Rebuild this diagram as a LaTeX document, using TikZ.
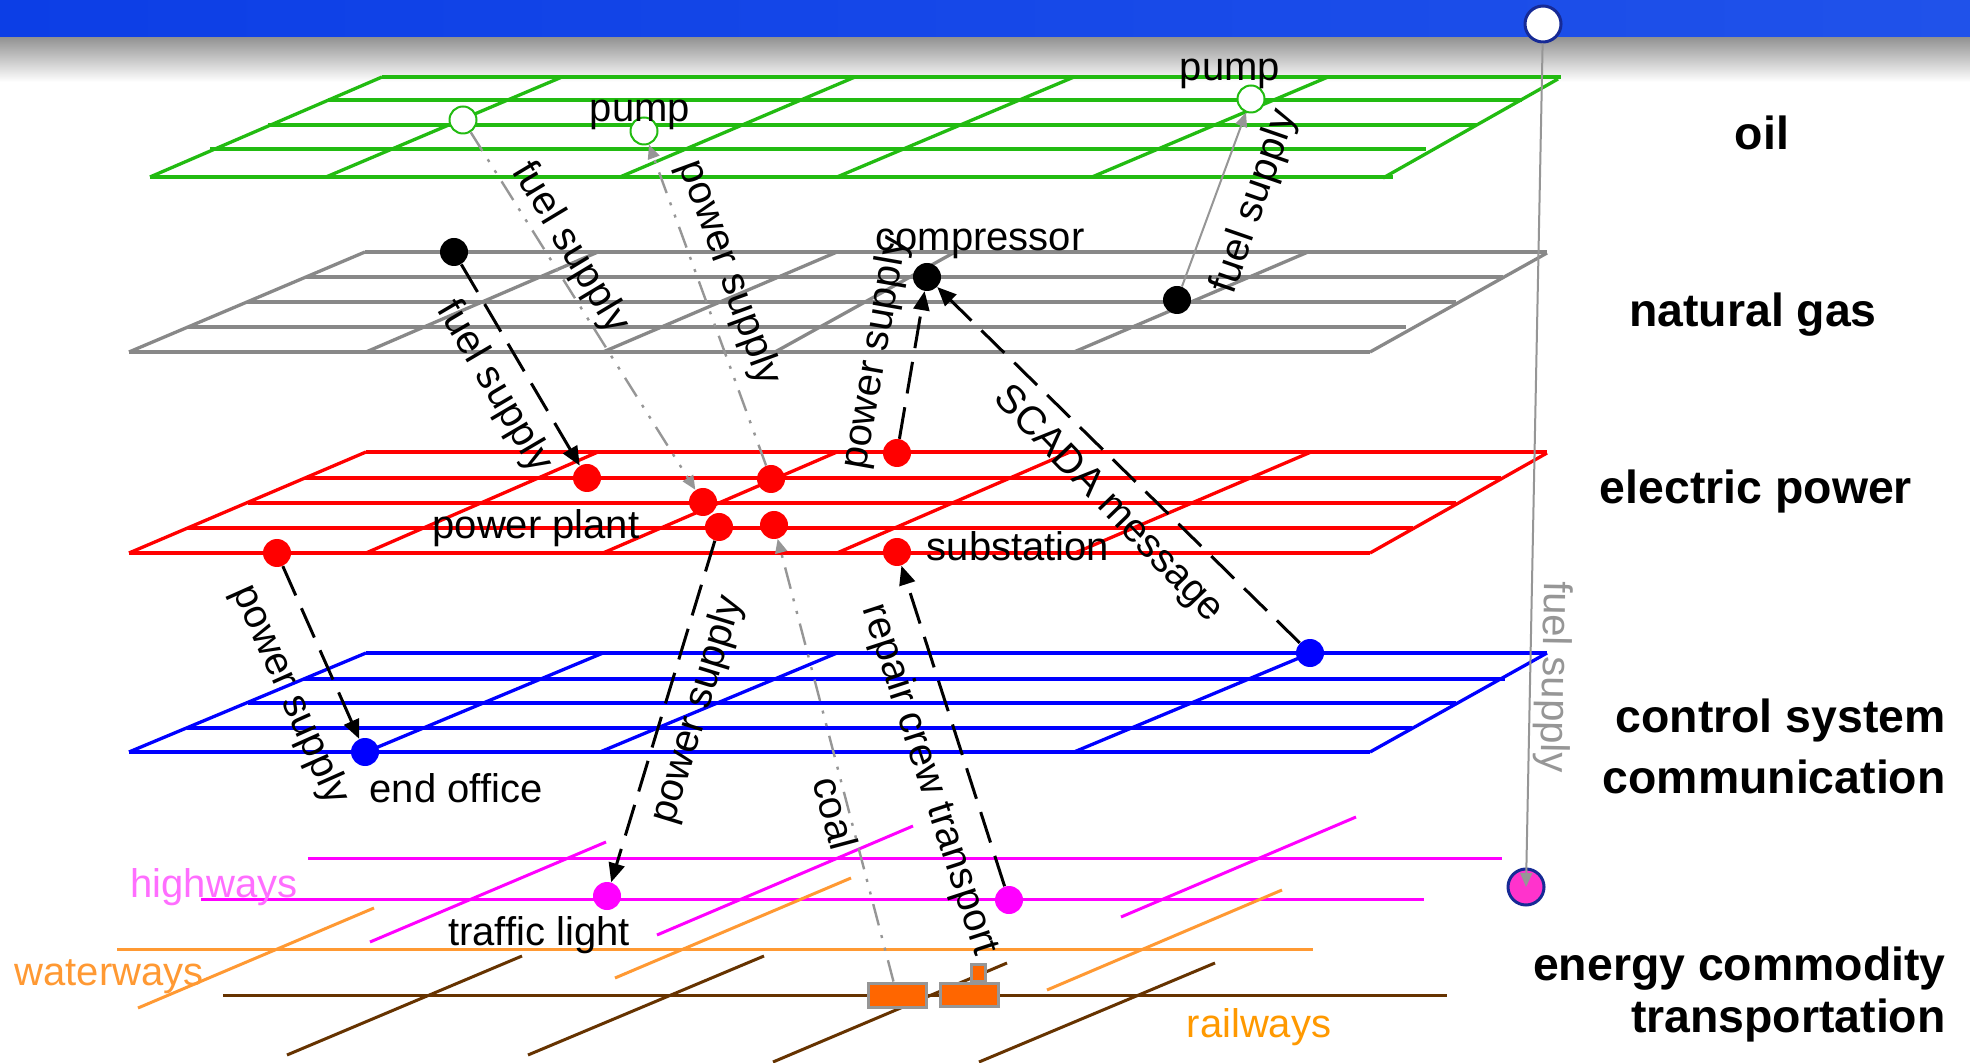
\documentclass[tikz,border=0pt]{standalone}
\usepackage{fontspec}
\setmainfont{Liberation Sans}
\usetikzlibrary{arrows.meta}
\definecolor{oilg}{RGB}{34,187,17}
\definecolor{gasg}{RGB}{136,136,136}
\definecolor{elr}{RGB}{255,0,0}
\definecolor{ctb}{RGB}{0,0,255}
\definecolor{hwy}{RGB}{255,0,255}
\definecolor{wtr}{RGB}{255,153,51}
\definecolor{rail}{RGB}{102,51,0}
\definecolor{carfill}{RGB}{255,102,0}
\definecolor{lnkgray}{RGB}{150,150,150}
\definecolor{ringblue}{RGB}{22,42,150}
\definecolor{hwylbl}{RGB}{255,110,255}
\definecolor{raillbl}{RGB}{255,153,0}
\definecolor{topL}{RGB}{12,62,230}
\definecolor{topR}{RGB}{32,82,234}
\definecolor{pinkfill}{RGB}{255,51,204}
\begin{document}
\begin{tikzpicture}[x=0.5pt,y=-0.5pt,
  gridline/.style={line width=1.65pt},
  lbl/.style={font=\fontsize{20pt}{24pt}\selectfont, inner sep=0pt},
  layerlbl/.style={font=\fontsize{23.2pt}{28pt}\selectfont\bfseries, inner sep=0pt},
  netnode/.style={circle, inner sep=0pt, minimum size=14pt},
  pumpnode/.style={circle, inner sep=0pt, minimum size=13.5pt, fill=white, draw=oilg, line width=1pt},
  ringnode/.style={circle, inner sep=0pt, minimum size=18pt, draw=ringblue, line width=1.5pt},
  carbox/.style={rectangle, inner sep=0pt, fill=carfill, draw=lnkgray, line width=1.5pt},
  blackflow/.style={black, line width=1.5pt, dash pattern=on 16pt off 7pt, -{Triangle[length=9.5pt,width=8pt]}},
  grayflow/.style={lnkgray, line width=1.2pt, dash pattern=on 11pt off 5pt on 1.5pt off 5pt on 1.5pt off 5pt, -{Triangle[length=7pt,width=6pt]}},
  graysolid/.style={lnkgray, line width=1pt, -{Triangle[length=7pt,width=6pt]}}
]
\useasboundingbox (0,0) rectangle (1970,1063);
\fill[white] (0,0) rectangle (1970,1063);
% title bar
\shade[left color=topL, right color=topR] (0,0) rectangle (1970,38);
\shade[top color=black!42, bottom color=white] (0,38) rectangle (1970,82);

% ---- oil grid ----
\begin{scope}[gridline, draw=oilg]
\draw (382,77) -- (1561,77);
\draw (328,100) -- (1522,100);
\draw (268,125) -- (1477,125);
\draw (210,149) -- (1426,149);
\draw (150,177) -- (1393,177);
\draw (150,177) -- (382,77);
\draw (326,177) -- (562,77);
\draw (620,177) -- (855,77);
\draw (837,177) -- (1074,77);
\draw (1092,177) -- (1328,77);
\draw (1383,178) -- (1558,79);
\end{scope}

% ---- natural gas grid ----
\begin{scope}[gridline, draw=gasg]
\draw (365,252) -- (1547,252);
\draw (306,277) -- (1503,277);
\draw (247,302) -- (1456,302);
\draw (188,327) -- (1406,327);
\draw (129,352) -- (1370,352);
\draw (129,352) -- (365,252);
\draw (366,352) -- (598,252);
\draw (603,352) -- (837,252);
\draw (775,352) -- (955,252);
\draw (1074,352) -- (1308,252);
\draw (1370,352) -- (1547,253);
\end{scope}

% ---- electric power grid ----
\begin{scope}[gridline, draw=elr]
\draw (366,452) -- (1547,452);
\draw (305,478) -- (1501,478);
\draw (248,503) -- (1456,503);
\draw (188,528) -- (1413,528);
\draw (129,553) -- (1370,553);
\draw (129,553) -- (366,452);
\draw (366,553) -- (598,452);
\draw (603,553) -- (837,452);
\draw (837,553) -- (1070,452);
\draw (1075,553) -- (1311,452);
\draw (1370,553) -- (1547,453);
\end{scope}

% ---- control system grid ----
\begin{scope}[gridline, draw=ctb]
\draw (366,653) -- (1547,653);
\draw (304,679) -- (1505,679);
\draw (248,703) -- (1456,703);
\draw (187,728) -- (1412,728);
\draw (129,752) -- (1370,752);
\draw (129,752) -- (366,653);
\draw (366,752) -- (603,653);
\draw (600,752) -- (837,653);
\draw (1074,752) -- (1311,653);
\draw (1370,752) -- (1547,653);
\end{scope}

% ---- transportation ----
\begin{scope}[line width=1.5pt, draw=hwy]
\draw (308,858) -- (1502,858);
\draw (201,899) -- (1424,899);
\draw (370,942) -- (606,842);
\draw (657,935) -- (913,826);
\draw (1121,917) -- (1356,817);
\end{scope}
\begin{scope}[line width=1.5pt, draw=wtr]
\draw (117,949) -- (1313,949);
\draw (138,1008) -- (374,908);
\draw (615,978) -- (851,878);
\draw (1047,990) -- (1282,890);
\end{scope}
\begin{scope}[line width=1.5pt, draw=rail]
\draw (223,995) -- (1447,995);
\draw (287,1055) -- (522,956);
\draw (528,1055) -- (764,956);
\draw (773,1062) -- (1007,963);
\draw (979,1062) -- (1215,963);
\end{scope}

% ---- nodes ----
\node[pumpnode] (p1) at (463,120) {};
\node[pumpnode] (p2) at (644,131) {};
\node[pumpnode] (p3) at (1251,99) {};
\node[netnode, fill=black] (g1) at (454,252) {};
\node[netnode, fill=black] (comp) at (927,277) {};
\node[netnode, fill=black] (g3) at (1177,300) {};
\node[netnode, fill=elr] (r1) at (587,478) {};
\node[netnode, fill=elr] (r2) at (277,553) {};
\node[netnode, fill=elr] (r3) at (703,502) {};
\node[netnode, fill=elr] (r4) at (771,479) {};
\node[netnode, fill=elr] (r5) at (719,527) {};
\node[netnode, fill=elr] (r6) at (774,525) {};
\node[netnode, fill=elr] (r7) at (897,453) {};
\node[netnode, fill=elr] (r8) at (897,552) {};
\node[netnode, fill=ctb] (b1) at (365,752) {};
\node[netnode, fill=ctb] (b2) at (1310,653) {};
\node[netnode, fill=hwy] (m1) at (607,896) {};
\node[netnode, fill=hwy] (m2) at (1009,900) {};
\node[ringnode, fill=white] (topc) at (1543,24) {};
\node[ringnode, fill=pinkfill] (pinkc) at (1526,887) {};
\node[carbox, minimum width=29pt, minimum height=12pt] (car1) at (897,995) {};
\node[carbox, minimum width=7pt, minimum height=8.5pt] (chim) at (978,973) {};
\node[carbox, minimum width=29pt, minimum height=11.5pt] (car2) at (969,994.5) {};

% ---- connectors ----
\draw[grayflow] (p1) -- (r3);
\draw[grayflow] (r4) -- (p2);
\draw[blackflow] (g1) -- (r1);
\draw[blackflow] (r7) -- (comp);
\draw[blackflow] (b2) -- (comp);
\draw[graysolid] (g3) -- (p3);
\draw[blackflow] (r2) -- (b1);
\draw[blackflow] (r5) -- (m1);
\draw[grayflow] (car1) -- (r6);
\draw[blackflow] (m2) -- (r8);
\draw[graysolid] (topc) -- (pinkc.center);

% ---- connector labels ----
\node[lbl, rotate=-59] (la) at (570,248) {fuel supply};
\node[lbl, rotate=-70] (lb) at (729,273) {power supply};
\node[lbl, rotate=-59.5] (lc) at (494,387) {fuel supply};
\node[lbl, rotate=80] (ld) at (876,353) {power supply};
\node[lbl, rotate=-46] (le) at (1108,505) {SCADA message};
\node[lbl, rotate=71] (lf) at (1255,202) {fuel supply};
\node[lbl, rotate=-66] (lg) at (290,695) {power supply};
\node[lbl, rotate=73] (lh) at (698,710) {power supply};
\node[lbl, rotate=-75] (li) at (836,813) {coal};
\node[lbl, rotate=-72] (lj) at (929,780) {repair crew transport};
\node[lbl, rotate=-91, text=lnkgray] (lk) at (1553,677) {fuel supply};

% ---- node labels ----
\node[lbl] (t1) at (640,115) {pump};
\node[lbl] (t2) at (1230,74) {pump};
\node[lbl] (t3) at (980,244) {compressor};
\node[lbl] (t4) at (536,528) {power plant};
\node[lbl] (t5) at (1018,546) {substation};
\node[lbl] (t6) at (456,788) {end office};
\node[lbl] (t7) at (539,935) {traffic light};
\node[lbl, text=hwylbl] (t8) at (214,887) {highways};
\node[lbl, text=wtr] (t9) at (109,977) {waterways};
\node[lbl, text=raillbl] (t10) at (1259,1027) {railways};

% ---- layer labels ----
\node[layerlbl] (y1) at (1762,133) {oil};
\node[layerlbl] (y2) at (1753,315) {natural gas};
\node[layerlbl] (y3) at (1756,492) {electric power};
\node[layerlbl, anchor=east] (y4) at (1946,721) {control system};
\node[layerlbl, anchor=east] (y5) at (1946,777) {communication};
\node[layerlbl, anchor=east] (y6) at (1946,969) {energy commodity};
\node[layerlbl, anchor=east] (y7) at (1946,1020) {transportation};
\end{tikzpicture}
\end{document}
